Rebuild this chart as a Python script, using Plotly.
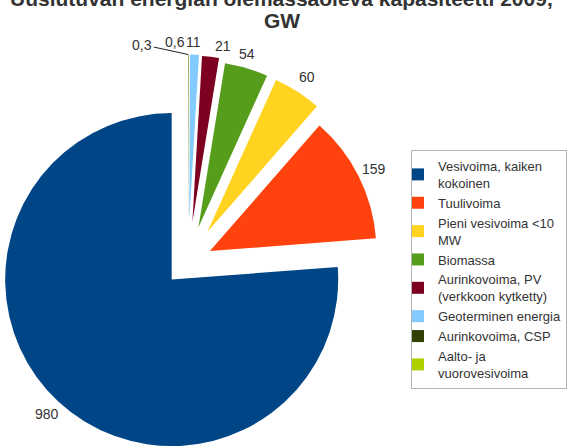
import math

import plotly.graph_objects as go

# data
labels = ["Vesivoima, kaiken<br>kokoinen", "Tuulivoima", "Pieni vesivoima &lt;10<br>MW",
          "Biomassa", "Aurinkovoima, PV<br>(verkkoon kytketty)", "Geoterminen energia",
          "Aurinkovoima, CSP", "Aalto- ja<br>vuorovesivoima"]
values = [980, 159, 60, 54, 21, 11, 0.6, 0.3]
value_text = ["980", "159", "60", "54", "21", "11", "0,6", "0,3"]
colors = ["#004586", "#ff420e", "#ffd320", "#579d1c",
          "#7e0021", "#83caff", "#314004", "#aecf00"]
title_lines = ["Uusiutuvan energian olemassaoleva kapasiteetti 2009,", "GW"]

# layout (pixels)
W, H = 576, 447
R = 166.5                 # pie radius
CX, CY = 188, 262         # pie centre
explode = [24, 24.5, 36, 36, 40, 41, 41, 41]   # how far each slice is pulled out
label_gap = 17
label_nudge = [(0, 0), (0, 0), (0, 0), (-4.5, 2), (10.5, 6), (-2, 4), (-13.5, 4), (0, 0)]
FONT = "Liberation Sans"
TEXT = "#333333"

total = sum(values)
# plotly's counterclockwise pies put the first slice clockwise of the start angle,
# so rotate by the rest to get every slice running counterclockwise from 12 o'clock
rotation = (1 - values[0] / total) * 360

fig = go.Figure()

# tiny pie hidden under the big slice, it only feeds the legend
fig.add_trace(go.Pie(labels=labels, values=values, sort=False, marker=dict(colors=colors),
                     textinfo="none", hoverinfo="skip",
                     domain=dict(x=[0.2, 0.2001], y=[0.3, 0.3001])))

annotations = []
cum = 0
for i, v in enumerate(values):
    mid = math.radians((cum + v / 2) / total * 360)   # counterclockwise from 12 o'clock
    cum += v
    ux, uy = -math.sin(mid), -math.cos(mid)           # screen direction (y down)
    cx = CX + explode[i] * ux
    cy = CY + explode[i] * uy
    cols = [c if j == i else "rgba(0,0,0,0)" for j, c in enumerate(colors)]
    fig.add_trace(go.Pie(
        labels=labels, values=values, sort=False, direction="counterclockwise",
        rotation=rotation, marker=dict(colors=cols), textinfo="none",
        showlegend=False, hoverinfo="skip",
        domain=dict(x=[(cx - R) / W, (cx + R) / W], y=[1 - (cy + R) / H, 1 - (cy - R) / H]),
    ))
    if i == len(values) - 1:
        # smallest slice: label off to the left with a leader line
        px, py = cx + R * ux, cy + R * uy
        annotations.append(dict(x=px / W, y=1 - py / H, xref="paper", yref="paper",
                                text=value_text[i], showarrow=True, arrowhead=0,
                                arrowwidth=1, arrowcolor="#222222", ax=-46, ay=-10,
                                font=dict(family=FONT, size=14, color=TEXT)))
    else:
        lx = cx + (R + label_gap) * ux + label_nudge[i][0]
        ly = cy + (R + label_gap) * uy + label_nudge[i][1]
        annotations.append(dict(x=lx / W, y=1 - ly / H, xref="paper", yref="paper",
                                text=value_text[i], showarrow=False,
                                xanchor="center", yanchor="middle",
                                font=dict(family=FONT, size=14, color=TEXT)))

# title, first line runs off the top like in the original
for text, y_px in zip(title_lines, [-1.3, 20]):
    annotations.append(dict(x=281.5 / W, y=1 - y_px / H, xref="paper", yref="paper",
                            text=text, showarrow=False, xanchor="center", yanchor="middle",
                            font=dict(family=FONT, size=21, color=TEXT, weight="bold")))

fig.update_layout(
    width=W, height=H,
    margin=dict(l=0, r=0, t=0, b=0),
    paper_bgcolor="white",
    font=dict(family=FONT, color=TEXT),
    legend=dict(x=411 / W, y=1 - 150 / H, xanchor="left", yanchor="top",
                bordercolor="#b3b3b3", borderwidth=1, bgcolor="white",
                indentation=-14, font=dict(family=FONT, size=13, color=TEXT)),
    annotations=annotations,
)

fig.write_html("out.html", config={"displayModeBar": False},
               post_script="document.body.style.margin = '0';")
